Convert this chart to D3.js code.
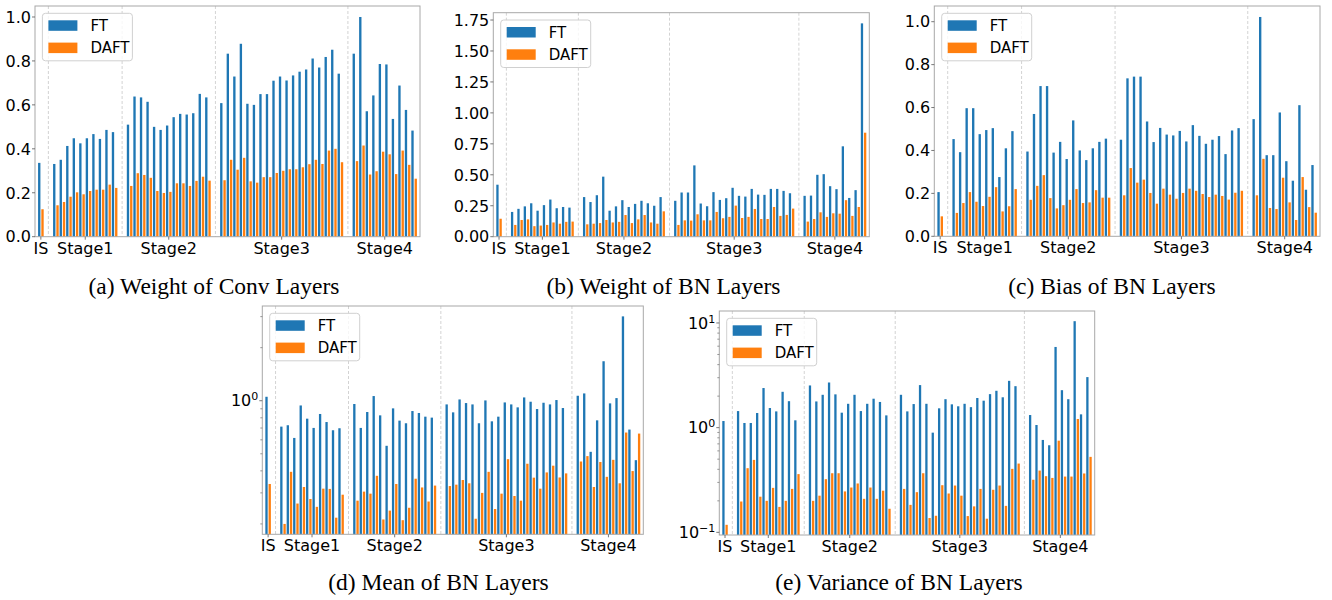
<!DOCTYPE html>
<html lang="en">
  <head>
    <meta charset="UTF-8" />
    <title>FT vs DAFT parameter change per layer</title>
    <script src="https://d3js.org/d3.v7.min.js"></script>
    <style>
      body {
        margin: 0;
        background: #fff;
      }
      svg {
        display: block;
        font-family: "DejaVu Sans", sans-serif;
      }
      .caption {
        font-family: "Liberation Serif", "Times New Roman", serif;
        font-size: 23.5px;
        fill: #000;
      }
    </style>
  </head>
  <body>
    <svg id="chart" width="1332" height="600"></svg>

    <script>
      // layer groups of the backbone
      const stageNames = ["IS", "Stage1", "Stage2", "Stage3", "Stage4"];
      const stageSizes = [1, 10, 13, 19, 10];
      const seriesNames = ["FT", "DAFT"];

      // (a) weight of conv layers
      const convFT = [0.336,
        0.331, 0.35, 0.413, 0.448, 0.425, 0.448, 0.467, 0.445, 0.486, 0.476,
        0.51, 0.638, 0.634, 0.614, 0.5, 0.486, 0.506, 0.544, 0.559, 0.556, 0.562, 0.65, 0.634,
        0.608, 0.833, 0.729, 0.878, 0.605, 0.6, 0.649, 0.649, 0.71, 0.729, 0.711, 0.734, 0.751, 0.761, 0.811, 0.77, 0.818, 0.851, 0.742,
        0.833, 1.0, 0.571, 0.643, 0.786, 0.784, 0.536, 0.688, 0.577, 0.483];
      const convDAFT = [0.125,
        0.143, 0.158, 0.182, 0.202, 0.193, 0.208, 0.214, 0.214, 0.237, 0.222,
        0.231, 0.289, 0.281, 0.268, 0.208, 0.199, 0.204, 0.243, 0.243, 0.231, 0.254, 0.273, 0.255,
        0.257, 0.35, 0.305, 0.359, 0.252, 0.246, 0.271, 0.271, 0.29, 0.3, 0.307, 0.307, 0.316, 0.33, 0.35, 0.331, 0.392, 0.4, 0.339,
        0.344, 0.415, 0.283, 0.298, 0.387, 0.375, 0.285, 0.392, 0.327, 0.264];

      // (b) weight of BN layers
      const bnWeightFT = [0.42,
        0.2, 0.225, 0.245, 0.27, 0.21, 0.255, 0.3, 0.23, 0.24, 0.235,
        0.32, 0.28, 0.335, 0.485, 0.21, 0.245, 0.295, 0.24, 0.265, 0.29, 0.27, 0.25, 0.32,
        0.29, 0.357, 0.357, 0.576, 0.268, 0.246, 0.36, 0.297, 0.311, 0.395, 0.33, 0.324, 0.386, 0.34, 0.338, 0.386, 0.386, 0.37, 0.351,
        0.33, 0.332, 0.5, 0.505, 0.408, 0.384, 0.73, 0.313, 0.376, 1.723];
      const bnWeightDAFT = [0.145,
        0.095, 0.135, 0.14, 0.085, 0.09, 0.095, 0.115, 0.105, 0.12, 0.122,
        0.1, 0.105, 0.11, 0.135, 0.115, 0.12, 0.175, 0.11, 0.14, 0.175, 0.115, 0.105, 0.205,
        0.095, 0.132, 0.13, 0.181, 0.132, 0.132, 0.2, 0.149, 0.16, 0.251, 0.151, 0.16, 0.224, 0.143, 0.143, 0.24, 0.168, 0.176, 0.227,
        0.122, 0.143, 0.197, 0.16, 0.189, 0.186, 0.295, 0.168, 0.24, 0.84];

      // (c) bias of BN layers
      const biasFT = [0.206,
        0.453, 0.392, 0.597, 0.597, 0.476, 0.495, 0.504, 0.276, 0.41, 0.49,
        0.395, 0.57, 0.7, 0.7, 0.39, 0.44, 0.36, 0.54, 0.4, 0.355, 0.41, 0.44, 0.455,
        0.45, 0.736, 0.744, 0.744, 0.535, 0.439, 0.505, 0.474, 0.47, 0.491, 0.442, 0.518, 0.468, 0.431, 0.45, 0.467, 0.383, 0.493, 0.504,
        0.546, 1.022, 0.378, 0.378, 0.577, 0.35, 0.259, 0.611, 0.217, 0.332];
      const biasDAFT = [0.093,
        0.109, 0.155, 0.206, 0.161, 0.141, 0.184, 0.229, 0.116, 0.14, 0.22,
        0.17, 0.235, 0.285, 0.178, 0.13, 0.145, 0.17, 0.22, 0.155, 0.158, 0.215, 0.18, 0.18,
        0.191, 0.318, 0.25, 0.264, 0.202, 0.152, 0.222, 0.194, 0.175, 0.202, 0.222, 0.212, 0.197, 0.183, 0.194, 0.188, 0.171, 0.203, 0.212,
        0.191, 0.361, 0.132, 0.127, 0.273, 0.158, 0.076, 0.276, 0.136, 0.11];

      // (d) mean of BN layers (log axis)
      const meanFT = [1.053,
        0.713, 0.726, 0.615, 0.94, 0.791, 0.701, 0.841, 0.757, 0.68, 0.698,
        0.958, 0.701, 0.863, 1.063, 0.826, 0.555, 0.905, 0.771, 0.745, 0.874, 0.852, 0.812, 0.802,
        0.953, 0.859, 1.017, 0.97, 0.953, 0.745, 1.004, 0.764, 0.812, 0.978, 0.953, 0.917, 1.044, 0.987, 0.897, 0.974, 0.953, 1.009, 0.909,
        1.067, 1.1, 0.513, 0.774, 1.675, 0.966, 1.035, 3.01, 0.686, 0.46];
      const meanDAFT = [0.337,
        0.2, 0.395, 0.261, 0.324, 0.277, 0.25, 0.317, 0.316, 0.217, 0.293,
        0.271, 0.305, 0.297, 0.375, 0.212, 0.238, 0.337, 0.21, 0.247, 0.361, 0.322, 0.268, 0.33,
        0.328, 0.334, 0.355, 0.34, 0.214, 0.3, 0.395, 0.243, 0.297, 0.466, 0.288, 0.271, 0.439, 0.366, 0.317, 0.392, 0.428, 0.367, 0.387,
        0.452, 0.485, 0.324, 0.449, 0.37, 0.462, 0.34, 0.66, 0.399, 0.651];

      // (e) variance of BN layers (log axis)
      const varFT = [1.157,
        1.44, 1.108, 1.108, 1.38, 2.39, 1.54, 1.43, 2.2, 1.79, 1.175,
        2.53, 1.78, 2.06, 2.7, 2.08, 1.39, 1.69, 2.06, 1.44, 1.69, 1.89, 1.76, 1.31,
        2.06, 1.43, 1.68, 2.55, 1.69, 0.896, 1.53, 1.87, 1.67, 1.6, 1.69, 1.57, 1.92, 1.81, 2.09, 2.25, 1.95, 2.8, 2.49,
        1.32, 1.06, 0.763, 0.679, 5.9, 2.28, 1.87, 10.4, 1.34, 3.04];
      const varDAFT = [0.118,
        0.197, 0.41, 0.492, 0.219, 0.2, 0.266, 0.175, 0.2, 0.26, 0.36,
        0.2, 0.224, 0.322, 0.367, 0.367, 0.246, 0.268, 0.293, 0.209, 0.268, 0.209, 0.25, 0.168,
        0.26, 0.183, 0.242, 0.367, 0.137, 0.144, 0.282, 0.235, 0.28, 0.224, 0.143, 0.177, 0.26, 0.135, 0.255, 0.28, 0.179, 0.404, 0.454,
        0.318, 0.389, 0.344, 0.331, 0.751, 0.341, 0.341, 1.21, 0.365, 0.526];

      // y tick labels
      const ticksUnit = [0, 0.2, 0.4, 0.6, 0.8, 1.0];
      const ticksBnWeight = [0, 0.25, 0.5, 0.75, 1.0, 1.25, 1.5, 1.75];
      const ticksMean = [1];
      const ticksVar = [0.1, 1, 10];

      const colors = { FT: "#1f77b4", DAFT: "#ff7f0e" };
      const STAGE_GAP = 2.3; // distance between last layer of a stage and first of the next

      // x position of every layer, plus stage centres and separators
      const positions = [];
      const stageCenters = [];
      const separators = [];
      let p = 0;
      stageSizes.forEach((n, s) => {
        const first = p;
        for (let i = 0; i < n; i++) {
          positions.push(p);
          if (i < n - 1) p += 1;
        }
        stageCenters.push((first + p) / 2);
        if (s < stageSizes.length - 1) {
          separators.push(p + STAGE_GAP / 2);
          p += STAGE_GAP;
        }
      });
      const lastPos = positions[positions.length - 1];

      const svg = d3.select("#chart");

      const panels = [
        { box: [35, 420, 6, 236.7], ft: convFT, daft: convDAFT, ticks: ticksUnit, fmt: d3.format(".1f"),
          caption: "(a) Weight of Conv Layers", cx: 214, cy: 294 },
        { box: [493.3, 869.3, 12.7, 236.7], ft: bnWeightFT, daft: bnWeightDAFT, ticks: ticksBnWeight, fmt: d3.format(".2f"),
          caption: "(b) Weight of BN Layers", cx: 663.5, cy: 294 },
        { box: [934.3, 1320, 6, 236.3], ft: biasFT, daft: biasDAFT, ticks: ticksUnit, fmt: d3.format(".1f"),
          caption: "(c) Bias of BN Layers", cx: 1112, cy: 294 },
        { box: [262.3, 643.3, 306, 534.3], ft: meanFT, daft: meanDAFT, ticks: ticksMean, log: true,
          caption: "(d) Mean of BN Layers", cx: 438.5, cy: 590 },
        { box: [719.3, 1094.7, 311, 535], ft: varFT, daft: varDAFT, ticks: ticksVar, log: true,
          caption: "(e) Variance of BN Layers", cx: 899, cy: 590 },
      ];

      panels.forEach(drawPanel);

      function drawPanel(cfg) {
        const [x0, x1, y0, y1] = cfg.box;
        const g = svg.append("g");
        const all = cfg.ft.concat(cfg.daft);

        const x = d3.scaleLinear().domain([-0.9, lastPos + 0.9]).range([x0, x1]);
        let y;
        if (cfg.log) {
          const lo = Math.log10(d3.min(all));
          const hi = Math.log10(d3.max(all));
          const m = (hi - lo) * 0.05;
          y = d3.scaleLog().domain([10 ** (lo - m), 10 ** (hi + m)]).range([y1, y0]);
        } else {
          y = d3.scaleLinear().domain([0, d3.max(all) * 1.05]).range([y1, y0]);
        }
        const base = cfg.log ? y1 : y(0);
        const slot = x(1) - x(0);
        const bw = slot * 0.36;

        // stage separators
        g.selectAll(".sep")
          .data(separators)
          .enter()
          .append("line")
          .attr("x1", (d) => x(d))
          .attr("x2", (d) => x(d))
          .attr("y1", y0)
          .attr("y2", y1)
          .attr("stroke", "#c8c8c8")
          .attr("stroke-width", 0.8)
          .attr("stroke-dasharray", "3,2");

        // bars
        [
          { vals: cfg.ft, off: -0.25, c: colors.FT },
          { vals: cfg.daft, off: 0.25, c: colors.DAFT },
        ].forEach((s) => {
          g.append("g")
            .selectAll("rect")
            .data(s.vals)
            .enter()
            .append("rect")
            .attr("x", (d, i) => x(positions[i] + s.off) - bw / 2)
            .attr("width", bw)
            .attr("y", (d) => y(d))
            .attr("height", (d) => base - y(d))
            .attr("fill", s.c);
        });

        // frame
        g.append("rect")
          .attr("x", x0)
          .attr("y", y0)
          .attr("width", x1 - x0)
          .attr("height", y1 - y0)
          .attr("fill", "none")
          .attr("stroke", "#a8a8a8")
          .attr("stroke-width", 1);

        // x ticks
        const xt = g.selectAll(".xt").data(stageNames).enter().append("g");
        xt.append("line")
          .attr("x1", (d, i) => x(stageCenters[i]))
          .attr("x2", (d, i) => x(stageCenters[i]))
          .attr("y1", y1)
          .attr("y2", y1 + 3)
          .attr("stroke", "#555")
          .attr("stroke-width", 0.8);
        xt.append("text")
          .attr("x", (d, i) => x(stageCenters[i]))
          .attr("y", y1 + 17)
          .attr("text-anchor", "middle")
          .style("font-size", "16px")
          .style("fill", "#000")
          .text((d) => d);

        // y ticks
        if (cfg.log) {
          const [lo, hi] = y.domain();
          const minors = [];
          for (let e = Math.floor(Math.log10(lo)); e <= Math.ceil(Math.log10(hi)); e++) {
            for (let k = 2; k <= 9; k++) {
              const v = k * 10 ** e;
              if (v >= lo && v <= hi) minors.push(v);
            }
          }
          g.selectAll(".ymin")
            .data(minors)
            .enter()
            .append("line")
            .attr("x1", x0 - 2)
            .attr("x2", x0)
            .attr("y1", (d) => y(d))
            .attr("y2", (d) => y(d))
            .attr("stroke", "#555")
            .attr("stroke-width", 0.6);
        }
        const yt = g.selectAll(".yt").data(cfg.ticks).enter().append("g");
        yt.append("line")
          .attr("x1", x0 - 3)
          .attr("x2", x0)
          .attr("y1", (d) => y(d))
          .attr("y2", (d) => y(d))
          .attr("stroke", "#555")
          .attr("stroke-width", 0.8);
        const lab = yt.append("text")
          .attr("x", x0 - 4)
          .attr("y", (d) => y(d))
          .attr("dy", "0.36em")
          .attr("text-anchor", "end")
          .style("font-size", "16px")
          .style("fill", "#000");
        if (cfg.log) {
          lab.each(function (d) {
            const t = d3.select(this);
            const e = Math.round(Math.log10(d));
            t.append("tspan").text("10");
            t.append("tspan")
              .attr("dy", "-0.55em")
              .style("font-size", "11px")
              .text(e < 0 ? "\u2212" + -e : String(e));
          });
        } else {
          lab.text((d) => cfg.fmt(d));
        }

        // legend
        const lg = g.append("g").attr("transform", `translate(${x0 + 7.4},${y0 + 7.3})`);
        lg.append("rect")
          .attr("width", 90)
          .attr("height", 47.5)
          .attr("rx", 3)
          .attr("fill", "#fff")
          .attr("fill-opacity", 0.8)
          .attr("stroke", "#d0d0d0")
          .attr("stroke-width", 1);
        seriesNames.forEach((name, i) => {
          lg.append("rect")
            .attr("x", 6)
            .attr("y", 7 + i * 22.3)
            .attr("width", 29)
            .attr("height", 10.5)
            .attr("fill", colors[name]);
          lg.append("text")
            .attr("x", 48)
            .attr("y", 12.3 + i * 22.3)
            .attr("dy", "0.36em")
            .style("font-size", "15px")
            .style("fill", "#000")
            .text(name);
        });

        // caption
        svg.append("text")
          .attr("class", "caption")
          .attr("x", cfg.cx)
          .attr("y", cfg.cy)
          .attr("text-anchor", "middle")
          .text(cfg.caption);
      }
    </script>
  </body>
</html>
